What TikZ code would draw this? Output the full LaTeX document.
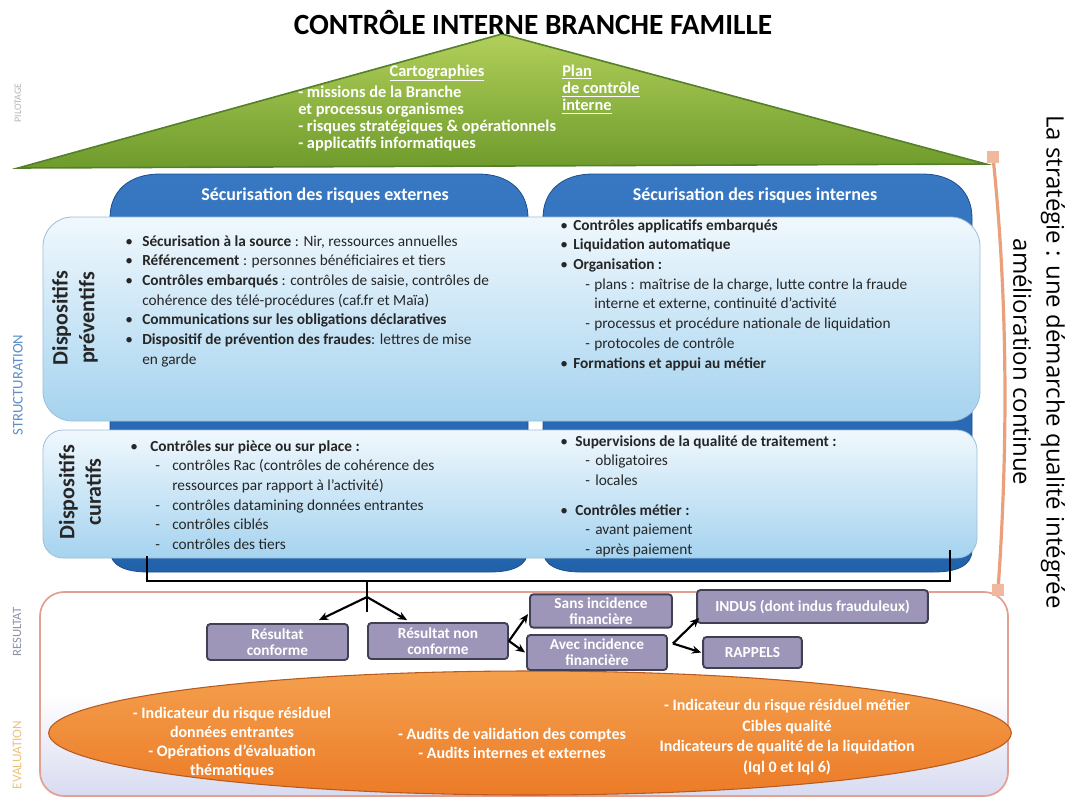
\documentclass[tikz,border=0pt]{standalone}
\usepackage{fontspec}
\setmainfont{Carlito}
\newfontfamily\osans{Open Sans}
\usetikzlibrary{arrows.meta,calc}
\definecolor{roofA}{HTML}{B2CF5A}
\definecolor{roofB}{HTML}{6E9B2C}
\definecolor{roofline}{HTML}{55802A}
\definecolor{tabA}{HTML}{3878C3}
\definecolor{tabB}{HTML}{2262AB}
\definecolor{tabline}{HTML}{1A4E8C}
\definecolor{boxA}{HTML}{F0F8FD}
\definecolor{boxB}{HTML}{A5D3EF}
\definecolor{boxline}{HTML}{9DBFD8}
\definecolor{resline}{HTML}{E2A093}
\definecolor{resbot}{HTML}{D8DBF0}
\definecolor{resfill}{HTML}{9D96B9}
\definecolor{resdraw}{HTML}{3F4054}
\definecolor{orA}{HTML}{F4A04E}
\definecolor{orB}{HTML}{EC7B27}
\definecolor{orline}{HTML}{B85A20}
\definecolor{salmon}{HTML}{EBA07C}
\definecolor{lblgray}{HTML}{B5B5B5}
\definecolor{lblblue}{HTML}{5C8DC6}
\definecolor{lblres}{HTML}{8C90A8}
\definecolor{lbleval}{HTML}{EBC27C}
\definecolor{txt}{HTML}{262626}
\newcommand\bulitem[2]{\makebox[#1][l]{\textbullet}#2}
\newcommand\dashitem[3]{\hspace*{#1}\makebox[#2][l]{-}#3}
\begin{document}
\begin{tikzpicture}[x=0.75pt,y=-0.75pt,
  body/.style={anchor=north west, inner sep=0pt, align=left, text=txt, font=\fontsize{11.5}{14.8}\selectfont},
  tabtxt/.style={text=white, font=\bfseries\fontsize{13.5}{15}\selectfont, inner sep=0pt},
  roof/.style={text=white, font=\bfseries\fontsize{12.3}{12.8}\selectfont, inner sep=0pt, align=left},
  resbox/.style={draw=resdraw, line width=1.4pt, fill=resfill, rounded corners=2.5pt, text=white, font=\bfseries\fontsize{11.5}{12}\selectfont, align=center, inner sep=0pt},
  arr/.style={-{Stealth[length=7pt,width=6pt]}, line width=1.6pt, black},
  side/.style={rotate=90, inner sep=0pt},
  evaltxt/.style={text=white, font=\bfseries\fontsize{12}{14.3}\selectfont, align=center, inner sep=0pt},
  disp/.style={rotate=90, font=\bfseries\fontsize{16.5}{20}\selectfont, text=txt, align=center, inner sep=0pt}
]
\useasboundingbox (0,0) rectangle (1072,800);

% result / evaluation region
\path[draw=resline, line width=1.3pt, top color=white, bottom color=resbot, middle color=white, rounded corners=18pt] (40,592) rectangle (1008,796);
\path[draw=orline, line width=0.8pt, top color=orA, bottom color=orB] (530,733) ellipse [x radius=361pt, y radius=46.5pt];

% blue columns
\path[draw=tabline, line width=0.6pt, top color=tabA, bottom color=tabB]
 (110,550) -- (110,218) .. controls (110,192) and (128,174) .. (160,174) -- (478,174)
 .. controls (510,174) and (528,192) .. (528,218) -- (528,550)
 .. controls (528,566) and (512,572) .. (490,572) -- (148,572)
 .. controls (126,572) and (110,566) .. (110,550) -- cycle;
\path[draw=tabline, line width=0.6pt, top color=tabA, bottom color=tabB]
 (543,550) -- (543,218) .. controls (543,192) and (561,174) .. (593,174) -- (922,174)
 .. controls (954,174) and (972,192) .. (972,218) -- (972,550)
 .. controls (972,566) and (956,572) .. (934,572) -- (581,572)
 .. controls (559,572) and (543,566) .. (543,550) -- cycle;

% light boxes
\path[draw=boxline, line width=0.6pt, top color=boxA, bottom color=boxB, rounded corners=22pt] (43,217) rectangle (980,421);
\path[draw=boxline, line width=0.6pt, top color=boxA, bottom color=boxB, rounded corners=15pt] (43,430) rectangle (977,558);

% roof
\path[draw=roofline, line width=1.2pt, top color=roofA, bottom color=roofB] (18,168) -- (502,34) -- (986,164) -- cycle;

% title
\node[font=\bfseries\fontsize{22}{24}\selectfont, text=black, inner sep=0pt] (title) at (533,23) {CONTRÔLE INTERNE BRANCHE FAMILLE};

% roof texts
\node[roof, anchor=base] (carto) at (437,76) {\underline{Cartographies}};
\node[roof, anchor=north west] (rlist) at (298,86) {- missions de la Branche\\et processus organismes\\- risques stratégiques \& opérationnels\\- applicatifs informatiques};
\node[roof, anchor=north west] (plan) at (562,65) {\underline{Plan}\\\underline{de contrôle}\\\underline{interne}};

% tab titles
\node[tabtxt] (text) at (325,196) {Sécurisation des risques externes};
\node[tabtxt] (tint) at (755,196) {Sécurisation des risques internes};

% side labels
\node[side, text=lblgray, font=\fontsize{7.5}{8}\selectfont] (lp) at (18,103) {PILOTAGE};
\node[side, text=lblblue, font=\fontsize{11}{12}\selectfont] (ls) at (18,385) {STRUCTURATION};
\node[side, text=lblres, font=\fontsize{9.5}{10}\selectfont] (lr) at (17,632) {RESULTAT};
\node[side, text=lbleval, font=\fontsize{10}{10}\selectfont] (le) at (17,755) {EVALUATION};

% box labels
\node[disp] (dprev) at (75,318) {Dispositifs\\préventifs};
\node[disp] (dcur) at (80,492) {Dispositifs\\curatifs};

% preventive texts
\node[body] (prevL) at (125,235) {%
\bulitem{12.75pt}{\textbf{Sécurisation à la source} : Nir, ressources annuelles}\\
\bulitem{12.75pt}{\textbf{Référencement} : personnes bénéficiaires et tiers}\\
\bulitem{12.75pt}{\textbf{Contrôles embarqués} : contrôles de saisie, contrôles de}\\
\hspace*{12.75pt}cohérence des télé-procédures (caf.fr et Maïa)\\
\bulitem{12.75pt}{\textbf{Communications sur les obligations déclaratives}}\\
\bulitem{12.75pt}{\textbf{Dispositif de prévention des fraudes}: lettres de mise}\\
\hspace*{12.75pt}en garde};
\node[body] (prevR) at (560,219) {%
\bulitem{9.75pt}{\textbf{Contrôles applicatifs embarqués}}\\
\bulitem{9.75pt}{\textbf{Liquidation automatique}}\\
\bulitem{9.75pt}{\textbf{Organisation :}}\\
\dashitem{18.75pt}{6.75pt}{plans : maîtrise de la charge, lutte contre la fraude}\\
\hspace*{25.5pt}interne et externe, continuité d'activité\\
\dashitem{18.75pt}{6.75pt}{processus et procédure nationale de liquidation}\\
\dashitem{18.75pt}{6.75pt}{protocoles de contrôle}\\
\bulitem{9.75pt}{\textbf{Formations et appui au métier}}};

% curative texts
\node[body] (curL) at (130,440) {%
\bulitem{15pt}{\textbf{Contrôles sur pièce ou sur place :}}\\
\dashitem{18.75pt}{12.75pt}{contrôles Rac (contrôles de cohérence des}\\
\hspace*{31.5pt}ressources par rapport à l'activité)\\
\dashitem{18.75pt}{12.75pt}{contrôles datamining données entrantes}\\
\dashitem{18.75pt}{12.75pt}{contrôles ciblés}\\
\dashitem{18.75pt}{12.75pt}{contrôles des tiers}};
\node[body] (curR) at (560,435) {%
\bulitem{11.25pt}{\textbf{Supervisions de la qualité de traitement :}}\\
\dashitem{18.75pt}{7.5pt}{obligatoires}\\
\dashitem{18.75pt}{7.5pt}{locales}\\[7.5pt]
\bulitem{11.25pt}{\textbf{Contrôles métier :}}\\
\dashitem{18.75pt}{7.5pt}{avant paiement}\\
\dashitem{18.75pt}{7.5pt}{après paiement}};

% bracket
\coordinate (bl) at (147,556);
\coordinate (br) at (950,550);
\coordinate (bm) at (367,581);
\coordinate (tk) at (367,612);
\coordinate (jn) at (367,597);
\draw[line width=1pt] (bl) |- (bm) -| (br);
\draw[line width=1pt] (bm) -- (tk);

% result boxes
\node[resbox, minimum width=105.75pt, minimum height=27pt] (rc) at (277.5,642) {Résultat\\conforme};
\node[resbox, minimum width=105pt, minimum height=27pt] (rnc) at (438,641) {Résultat non\\conforme};
\node[resbox, minimum width=106.5pt, minimum height=25pt] (sans) at (601,611) {Sans incidence\\financière};
\node[resbox, minimum width=105pt, minimum height=26.25pt] (avec) at (597,652.5) {Avec incidence\\financière};
\node[resbox, minimum width=173pt, minimum height=24.75pt] (indus) at (812.5,606.5) {INDUS (dont indus frauduleux)};
\node[resbox, minimum width=74pt, minimum height=23.25pt] (rap) at (752.5,652.5) {RAPPELS};

% arrows
\draw[arr] (jn) -- ($(rc.north east)+(-30,-3)$);
\draw[arr] (jn) -- ($(rnc.north west)+(40,-2)$);
\draw[arr] (rnc.east) -- ($(sans.west)+(-1,3)$);
\draw[arr] (rnc.east) -- ($(avec.west)+(-1,0)$);
\coordinate (j2) at ($(avec.east)+(5,-9)$);
\draw[arr] (j2) -- ($(indus.south west)+(3,-6)$);
\draw[arr] (j2) -- ($(rap.west)+(-1,0)$);

% evaluation texts
\node[evaltxt] (ev1) at (232,743) {- Indicateur du risque résiduel\\données entrantes\\- Opérations d'évaluation\\thématiques};
\node[evaltxt] (ev2) at (512,743) {- Audits de validation des comptes\\- Audits internes et externes};
\node[evaltxt, font=\bfseries\fontsize{12}{15.5}\selectfont] (ev3) at (787,737) {- Indicateur du risque résiduel métier\\Cibles qualité\\Indicateurs de qualité de la liquidation\\(Iql 0 et Iql 6)};

% strategy bracket and text
\coordinate (sb1) at (993,157);
\coordinate (sb2) at (998,590);
\draw[salmon, line width=2.4pt] (sb1) .. controls (1008,300) and (1008,450) .. (sb2);
\fill[salmon!75!white] (987,151) rectangle (999,163);
\fill[salmon!75!white] (992,584) rectangle (1004,596);
\node[rotate=-90, font=\osans\fontsize{18}{25}\selectfont, align=center, inner sep=0pt] (strat) at (1039,362) {La stratégie : une démarche qualité intégrée\\amélioration continue};
\end{tikzpicture}
\end{document}
